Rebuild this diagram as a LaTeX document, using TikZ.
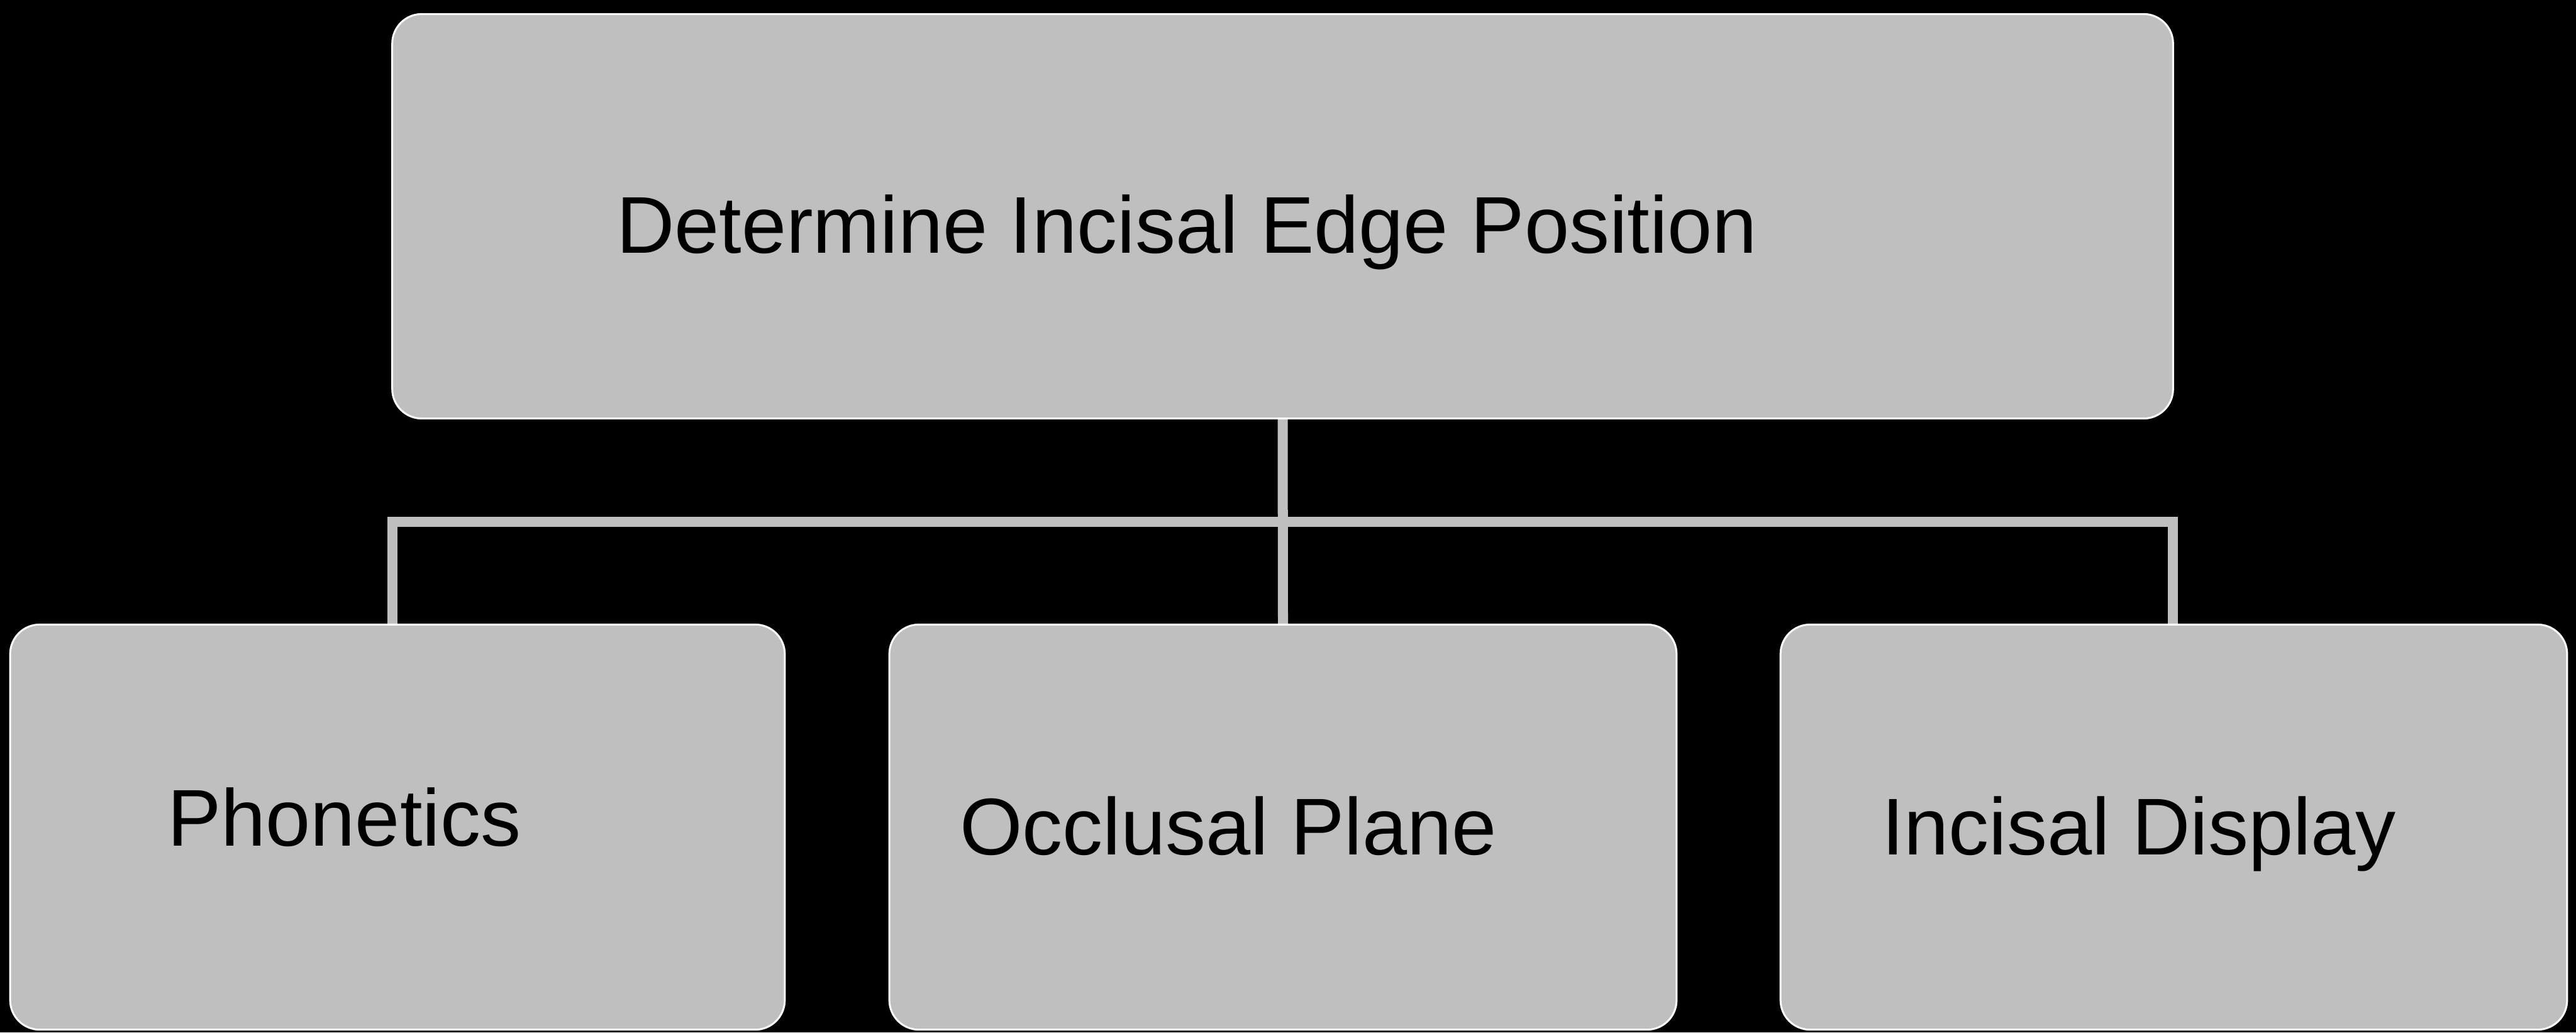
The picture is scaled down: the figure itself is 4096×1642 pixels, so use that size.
\documentclass[tikz,border=0pt]{standalone}
\usepackage{fontspec}
\setmainfont{Liberation Sans}
\pgfdeclarelayer{back}
\pgfdeclarelayer{lines}
\pgfsetlayers{back,lines,main}
\definecolor{boxgray}{RGB}{191,191,191}
\tikzset{
  box/.style={draw=white, line width=0.03cm, fill=boxgray, rounded corners=0.47cm,
    inner sep=0pt, outer sep=0pt},
  label/.style={anchor=base west, inner sep=0pt, outer sep=0pt, text=black,
    font=\fontsize{36.4pt}{44pt}\selectfont},
  link/.style={draw=boxgray, line width=0.16cm, line join=miter, line cap=butt}
}
\begin{document}
\begin{tikzpicture}[x=0.01cm, y=-0.01cm]
  \begin{pgfonlayer}{back}
    \fill[black] (0,0) rectangle (4096,1642);
  \end{pgfonlayer}
  \useasboundingbox (0,0) rectangle (4096,1642);

  % boxes
  \node[box, minimum width=28.30cm, minimum height=6.43cm] (top) at (2039.5,344) {};
  \node[box, minimum width=12.31cm, minimum height=6.44cm] (pho) at (632,1315.5) {};
  \node[box, minimum width=12.51cm, minimum height=6.44cm] (occ) at (2040,1315.5) {};
  \node[box, minimum width=12.50cm, minimum height=6.44cm] (inc) at (3456.5,1315.5) {};

  % texts
  \node[label] (toptext) at (980,402) {Determine Incisal Edge Position};
  \node[label] (photext) at (266,1345) {Phonetics};
  \node[label] (occtext) at (1526,1359) {Occlusal Plane};
  \node[label] (inctext) at (2992,1359) {Incisal Display};

  % connectors
  \coordinate (bus) at (2040,830);
  \begin{pgfonlayer}{lines}
    \draw[link] (top.south) -- (occ.north);
    \draw[link] (top.west |- pho.north) |- (bus) -| (top.east |- inc.north);
  \end{pgfonlayer}
\end{tikzpicture}
\end{document}
